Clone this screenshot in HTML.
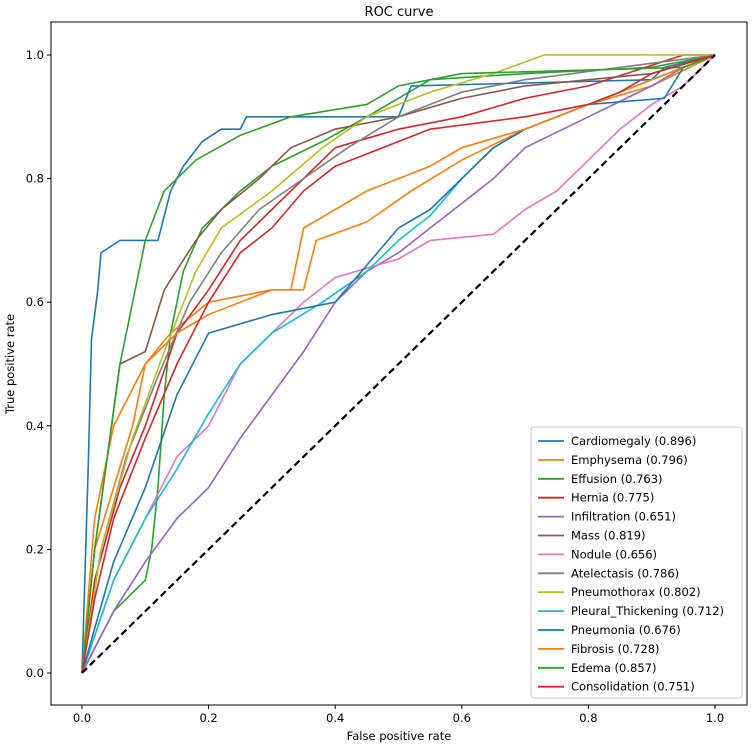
<!DOCTYPE html>
<html><head><meta charset="utf-8"><style>
body{margin:0;background:#fff;font-family:"Liberation Sans","DejaVu Sans",sans-serif;}
svg text{font-family:"DejaVu Sans","Liberation Sans",sans-serif;}
</style></head><body>
<svg id="chart" width="752" height="748" xmlns="http://www.w3.org/2000/svg">
<rect x="0" y="0" width="752" height="748" fill="#fff"/>
<g id="plot"></g>
<rect x="51" y="22" width="696" height="683" fill="none" stroke="#000" stroke-width="1"/>
<text x="399" y="16" text-anchor="middle" font-size="13">ROC curve</text>
<text x="399" y="740" text-anchor="middle" font-size="11.5">False positive rate</text>
<text x="14" y="364" text-anchor="middle" font-size="11.5" transform="rotate(-90 14 364)">True positive rate</text>
<g id="ticks"></g>
<g id="legend"></g>
</svg>
<script>
const labels=["Cardiomegaly (0.896)","Emphysema (0.796)","Effusion (0.763)","Hernia (0.775)","Infiltration (0.651)","Mass (0.819)","Nodule (0.656)","Atelectasis (0.786)","Pneumothorax (0.802)","Pleural_Thickening (0.712)","Pneumonia (0.676)","Fibrosis (0.728)","Edema (0.857)","Consolidation (0.751)"];
const colors=["#1f77b4","#ff7f0e","#2ca02c","#d62728","#9467bd","#8c564b","#e377c2","#7f7f7f","#bcbd22","#17becf","#1f77b4","#ff7f0e","#2ca02c","#d62728"];
const tickValues=[0,0.2,0.4,0.6,0.8,1.0];
const tickLabels=["0.0","0.2","0.4","0.6","0.8","1.0"];
const cardiomegaly=[[0,0],[0.01,0.34],[0.015,0.54],[0.025,0.62],[0.03,0.68],[0.06,0.70],[0.12,0.70],[0.14,0.78],[0.16,0.82],[0.19,0.86],[0.22,0.88],[0.25,0.88],[0.26,0.90],[0.5,0.90],[0.52,0.95],[0.9,0.96],[0.92,0.98],[1,1]];
const emphysema=[[0,0],[0.02,0.2],[0.05,0.3],[0.08,0.4],[0.1,0.5],[0.14,0.55],[0.2,0.6],[0.3,0.62],[0.35,0.62],[0.37,0.7],[0.45,0.73],[0.52,0.78],[0.6,0.83],[0.7,0.88],[0.8,0.92],[0.9,0.95],[1,1]];
const effusion=[[0,0],[0.05,0.1],[0.1,0.15],[0.11,0.2],[0.12,0.3],[0.13,0.45],[0.14,0.55],[0.16,0.65],[0.19,0.72],[0.25,0.78],[0.3,0.82],[0.38,0.86],[0.45,0.9],[0.5,0.93],[0.55,0.96],[0.7,0.97],[0.9,0.98],[1,1]];
const hernia=[[0,0],[0.02,0.15],[0.06,0.3],[0.1,0.4],[0.15,0.55],[0.2,0.62],[0.25,0.7],[0.3,0.75],[0.35,0.8],[0.4,0.85],[0.5,0.88],[0.6,0.9],[0.7,0.93],[0.8,0.95],[0.95,1],[1,1]];
const infiltration=[[0,0],[0.05,0.1],[0.1,0.18],[0.15,0.25],[0.2,0.3],[0.25,0.38],[0.3,0.45],[0.35,0.52],[0.4,0.6],[0.45,0.65],[0.5,0.68],[0.55,0.72],[0.6,0.76],[0.65,0.8],[0.7,0.85],[0.8,0.9],[0.9,0.95],[0.95,0.98],[1,1]];
const mass=[[0,0],[0.02,0.2],[0.04,0.35],[0.06,0.5],[0.1,0.52],[0.13,0.62],[0.18,0.7],[0.22,0.75],[0.28,0.8],[0.33,0.85],[0.4,0.88],[0.5,0.9],[0.6,0.93],[0.7,0.95],[0.9,0.97],[1,1]];
const nodule=[[0,0],[0.05,0.15],[0.1,0.25],[0.15,0.35],[0.2,0.4],[0.25,0.5],[0.3,0.55],[0.35,0.6],[0.4,0.64],[0.5,0.67],[0.55,0.7],[0.65,0.71],[0.7,0.75],[0.75,0.78],[0.8,0.83],[0.85,0.88],[0.9,0.92],[0.95,0.95],[1,1]];
const atelectasis=[[0,0],[0.03,0.2],[0.07,0.35],[0.12,0.48],[0.17,0.6],[0.22,0.68],[0.28,0.75],[0.35,0.8],[0.42,0.85],[0.5,0.9],[0.6,0.94],[0.7,0.96],[0.85,0.98],[1,1]];
const pneumothorax=[[0,0],[0.03,0.2],[0.08,0.38],[0.13,0.52],[0.18,0.65],[0.22,0.72],[0.3,0.78],[0.38,0.85],[0.45,0.9],[0.55,0.94],[0.65,0.97],[0.73,1],[1,1]];
const pleural=[[0,0],[0.05,0.15],[0.1,0.25],[0.15,0.33],[0.2,0.42],[0.25,0.5],[0.3,0.55],[0.38,0.6],[0.45,0.65],[0.5,0.7],[0.55,0.74],[0.6,0.8],[0.65,0.85],[0.7,0.88],[0.8,0.92],[0.9,0.96],[1,1]];
const pneumonia=[[0,0],[0.05,0.18],[0.1,0.3],[0.15,0.45],[0.2,0.55],[0.3,0.58],[0.4,0.6],[0.5,0.72],[0.55,0.75],[0.6,0.8],[0.65,0.85],[0.7,0.88],[0.8,0.92],[0.92,0.93],[0.95,0.98],[1,1]];
const fibrosis=[[0,0],[0.02,0.25],[0.05,0.4],[0.1,0.5],[0.15,0.55],[0.2,0.58],[0.3,0.62],[0.33,0.62],[0.35,0.72],[0.4,0.75],[0.45,0.78],[0.55,0.82],[0.6,0.85],[0.7,0.88],[0.8,0.92],[0.9,0.96],[1,1]];
const edema=[[0,0],[0.02,0.2],[0.04,0.35],[0.06,0.5],[0.08,0.6],[0.1,0.7],[0.13,0.78],[0.18,0.83],[0.25,0.87],[0.33,0.9],[0.45,0.92],[0.5,0.95],[0.6,0.97],[0.95,0.98],[1,1]];
const consolidation=[[0,0],[0.02,0.12],[0.05,0.25],[0.1,0.38],[0.15,0.5],[0.2,0.6],[0.25,0.68],[0.3,0.72],[0.35,0.78],[0.4,0.82],[0.5,0.86],[0.55,0.88],[0.7,0.9],[0.8,0.92],[0.85,0.94],[0.9,0.97],[1,1]];
const series=[cardiomegaly,emphysema,effusion,hernia,infiltration,mass,nodule,atelectasis,pneumothorax,pleural,pneumonia,fibrosis,edema,consolidation];
const NS="http://www.w3.org/2000/svg";
const X=v=>82+v*633, Y=v=>673-v*618;
const plot=document.getElementById('plot'), ticks=document.getElementById('ticks'), legend=document.getElementById('legend');
function mk(t,a,p){const e=document.createElementNS(NS,t);for(const k in a)e.setAttribute(k,a[k]);p.appendChild(e);return e;}
tickValues.forEach((v,i)=>{
 const tx=mk('line',{x1:X(v),x2:X(v),y1:705,y2:709,stroke:'#000'},ticks);
 
 
 const lx=mk('text',{x:X(v),y:722,'text-anchor':'middle','font-size':'11.5'},ticks);lx.textContent=tickLabels[i];
 
 
 const ty=mk('line',{x1:47,x2:51,y1:Y(v),y2:Y(v),stroke:'#000'},ticks);
 
 
 const ly=mk('text',{x:44,y:Y(v)+4,'text-anchor':'end','font-size':'11.5'},ticks);ly.textContent=tickLabels[i];
 
 
});
series.forEach((s,i)=>{
 const p=mk('polyline',{points:s.map(d=>X(d[0])+','+Y(d[1])).join(' '),fill:'none',stroke:colors[i],'stroke-width':'1.6','stroke-linejoin':'round'},plot);
 
 
});
const diag=mk('line',{x1:X(0),y1:Y(0),x2:X(1),y2:Y(1),stroke:'#000','stroke-width':'2.2','stroke-dasharray':'7,4'},plot);


const box=mk('rect',{x:531,y:427,width:211,height:271,rx:3,fill:'#fff',stroke:'#ccc','fill-opacity':'0.85'},legend);


labels.forEach((l,i)=>{
 const y=441+i*18.9;
 const ln=mk('line',{x1:538,x2:564,y1:y,y2:y,stroke:colors[i],'stroke-width':'1.8'},legend);
 
 
 const t=mk('text',{x:571,y:y+4,'font-size':'11.5'},legend);t.textContent=l;
 
 
});
</script>
</body></html>
